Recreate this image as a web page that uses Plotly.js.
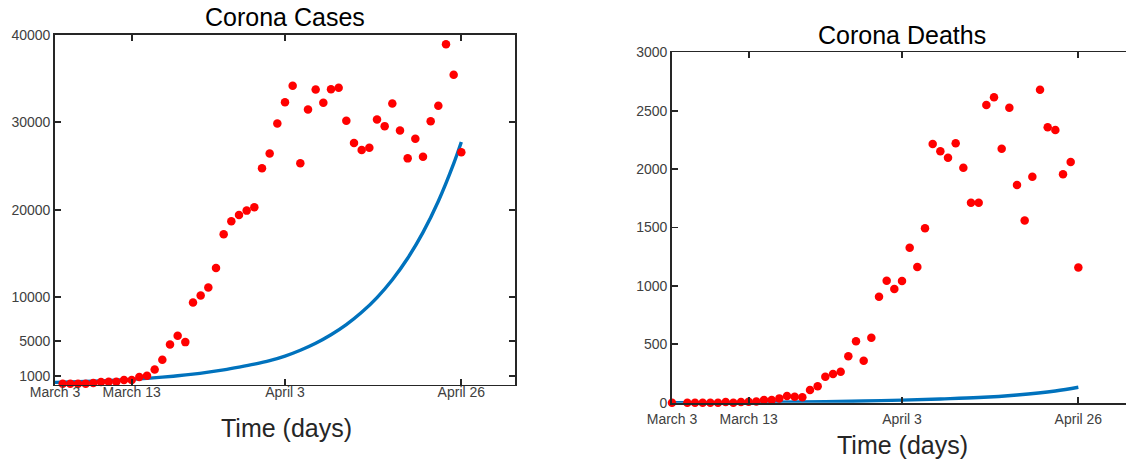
<!DOCTYPE html>
<html>
<head>
<meta charset="utf-8">
<script src="https://cdn.plot.ly/plotly-3.0.1.min.js"></script>
<style>html,body{margin:0;padding:0;background:#fff;}#chart{width:1126px;height:461px;}</style>
</head>
<body>
<div id="chart"></div>
<script>
// ---- data ----
const caseDays = [1,2,3,4,5,6,7,8,9,10,11,12,13,14,15,16,17,18,19,20,21,22,23,24,25,26,27,28,29,30,31,32,33,34,35,36,37,38,39,40,41,42,43,44,45,46,47,48,49,50,51,52,53];
const cases = [90,90,95,100,165,280,314,314,505,505,850,1000,1720,2830,4580,5570,4850,9380,10180,11100,13340,17190,18680,19400,19900,20280,24740,26450,29880,32310,34180,25310,31480,33770,32240,33800,33950,30180,27630,26830,27100,30340,29570,32160,29080,25880,28120,26070,30140,31890,38940,35440,26570];

const caseFitDays = [0,2,4,6,8,10,12,14,16,18,20,22,24,26,28,30,32,34,36,38,40,42,44,46,48,50,52,53];
const caseFit = [240,290,350,420,500,590,700,840,1000,1190,1420,1680,1990,2330,2730,3250,3920,4720,5690,6850,8260,9950,11990,14450,17410,20980,25280,27750];

const deathDays = [0,2,3,4,5,6,7,8,9,10,11,12,13,14,15,16,17,18,19,20,21,22,23,24,25,26,27,28,29,30,31,32,33,34,35,36,37,38,39,40,41,42,43,44,45,46,47,48,49,50,51,52,53];
const deaths = [0,0,0,0,0,0,6,0,6,9,11,23,23,37,57,51,46,109,140,223,246,265,397,526,360,557,908,1045,973,1042,1327,1162,1493,2215,2152,2098,2221,2012,1712,1712,2549,2615,2175,2526,1864,1560,1935,2680,2358,2335,1956,2061,1157];

const deathFitDays = [0,10,20,25,30,35,40,45,50,53];
const deathFit = [1,3,8,14,22,32,44,66,100,132];

const xTickDays = [0,10,30,53];
const xTickLabels = ['March 3','March 13','April 3','April 26'];
const caseTicks = [1000,5000,10000,20000,30000,40000];
const deathTicks = [0,500,1000,1500,2000,2500,3000];

// ---- styling ----
const FONT = 'Liberation Sans, Arial, Helvetica, sans-serif';
const W = 1126, H = 461;
const px = v => v / W;
const py = v => 1 - v / H;
const lineCol = '#262626';
const blue = '#0072BD';
const red = '#FF0000';

const axisBase = {
  showgrid: false, zeroline: false, showline: true,
  linecolor: lineCol, linewidth: 1.8,
  ticks: 'inside', ticklen: 6, tickwidth: 1.8, tickcolor: lineCol,
  tickfont: {family: FONT, size: 14, color: '#404040'},
  fixedrange: true
};

const traces = [
  {x: caseFitDays, y: caseFit, xaxis: 'x', yaxis: 'y', mode: 'lines',
   line: {color: blue, width: 3.4, shape: 'spline', smoothing: 1}, hoverinfo: 'skip', cliponaxis: false},
  {x: caseDays, y: cases, xaxis: 'x', yaxis: 'y', mode: 'markers',
   marker: {color: red, size: 8.5}, cliponaxis: false},
  {x: deathFitDays, y: deathFit, xaxis: 'x2', yaxis: 'y2', mode: 'lines',
   line: {color: blue, width: 3.4, shape: 'spline', smoothing: 1}, hoverinfo: 'skip', cliponaxis: false},
  {x: deathDays, y: deaths, xaxis: 'x2', yaxis: 'y2', mode: 'markers',
   marker: {color: red, size: 8.5}, cliponaxis: false}
];

const layout = {
  width: W, height: H,
  margin: {l: 0, r: 0, t: 0, b: 0},
  paper_bgcolor: '#fff', plot_bgcolor: '#fff',
  showlegend: false,
  font: {family: FONT},
  xaxis: Object.assign({}, axisBase, {
    domain: [px(55), px(515)], range: [0, 60], anchor: 'y', mirror: 'ticks',
    tickmode: 'array', tickvals: xTickDays, ticktext: xTickLabels,
    ticklabelstandoff: -6
  }),
  yaxis: Object.assign({}, axisBase, {
    domain: [py(384.5), py(35)], range: [0, 40000], anchor: 'x', mirror: 'ticks',
    tickmode: 'array', tickvals: caseTicks, ticktext: caseTicks.map(String)
  }),
  xaxis2: Object.assign({}, axisBase, {
    domain: [px(672), 1], range: [0, (1126 - 672) / 7.667], anchor: 'y2', mirror: 'ticks',
    tickmode: 'array', tickvals: xTickDays, ticktext: xTickLabels,
    ticklabelstandoff: 3
  }),
  yaxis2: Object.assign({}, axisBase, {
    domain: [py(402.7), py(52.3)], range: [0, 3000], anchor: 'x2', mirror: false,
    tickmode: 'array', tickvals: deathTicks, ticktext: deathTicks.map(String)
  }),
  annotations: [
    {text: 'Corona Cases', xref: 'paper', yref: 'paper', x: px(285), y: py(17),
     xanchor: 'center', yanchor: 'middle', showarrow: false,
     font: {family: FONT, size: 25, color: '#000'}},
    {text: 'Corona Deaths', xref: 'paper', yref: 'paper', x: px(902), y: py(35),
     xanchor: 'center', yanchor: 'middle', showarrow: false,
     font: {family: FONT, size: 25, color: '#000'}},
    {text: 'Time (days)', xref: 'paper', yref: 'paper', x: px(286), y: py(428),
     xanchor: 'center', yanchor: 'middle', showarrow: false,
     font: {family: FONT, size: 25, color: '#262626'}},
    {text: 'Time (days)', xref: 'paper', yref: 'paper', x: px(902), y: py(445),
     xanchor: 'center', yanchor: 'middle', showarrow: false,
     font: {family: FONT, size: 25, color: '#262626'}}
  ]
};

Plotly.newPlot('chart', traces, layout, {staticPlot: true, displayModeBar: false});
</script>
</body>
</html>
